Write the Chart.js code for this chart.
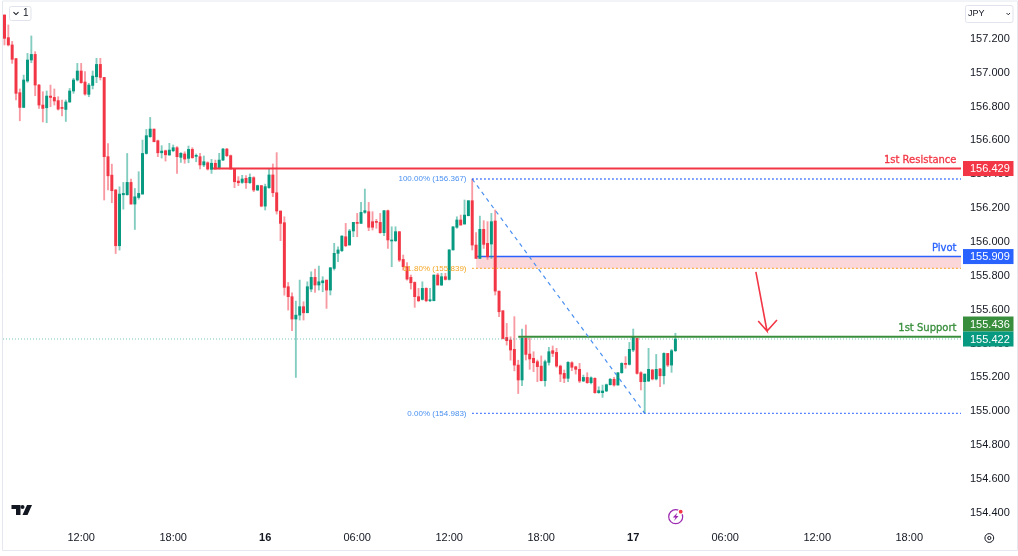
<!DOCTYPE html>
<html>
<head>
<meta charset="utf-8">
<title>USDJPY 15m</title>
<script src="https://cdn.jsdelivr.net/npm/chart.js@4/dist/chart.umd.min.js"></script>
<style>
  html, body { margin: 0; padding: 0; background: #fff; }
  canvas { display: block; }
</style>
</head>
<body>
<canvas id="chart" width="1018" height="556"></canvas>
<script>
// 15 minute candles. First bar is 07:00, index 20 is 12:00
const opens = [
  157.336,157.202,157.159,157.078,156.877,156.790,156.946,157.070,157.103,156.922,
  156.804,156.788,156.857,156.849,156.830,156.786,156.778,156.822,156.887,156.952,
  157.005,156.940,156.867,156.920,156.971,157.044,156.967,156.499,156.390,156.302,
  155.973,156.274,156.274,156.347,156.219,156.258,156.278,156.518,156.617,156.662,
  156.593,156.522,156.534,156.509,156.534,156.552,156.495,156.515,156.489,156.542,
  156.501,156.499,156.450,156.463,156.424,156.460,156.430,156.479,156.544,156.505,
  156.426,156.355,156.347,156.371,156.345,156.375,156.302,156.328,156.207,156.316,
  156.391,156.286,156.178,156.109,155.731,155.672,155.540,155.563,155.613,155.577,
  155.717,155.786,155.741,155.754,155.770,155.711,155.839,155.928,155.944,156.026,
  155.977,156.060,156.111,156.105,156.170,156.174,156.115,156.115,156.111,156.050,
  156.180,156.001,156.003,156.056,155.892,155.849,155.786,155.756,155.672,155.656,
  155.721,155.648,155.648,155.800,155.741,155.790,155.774,155.948,156.082,156.125,
  156.101,156.150,156.239,155.977,155.898,156.070,155.987,155.983,156.119,155.705,
  155.589,155.431,155.416,155.361,155.268,155.180,155.426,155.333,155.308,155.288,
  155.262,155.176,155.284,155.353,155.343,155.262,155.219,155.190,155.282,155.258,
  155.243,155.174,155.195,155.164,155.190,155.105,155.105,155.115,155.152,155.184,
  155.150,155.223,155.278,155.272,155.357,155.426,155.223,155.170,155.174,155.239,
  155.186,155.245,155.205,155.337,155.268,155.353
];
const highs = [
  157.336,157.277,157.180,157.080,156.899,156.981,157.109,157.212,157.119,156.926,
  156.883,156.887,156.922,156.899,156.853,156.834,156.834,156.902,156.962,157.050,
  157.050,157.001,156.932,157.005,157.080,157.080,156.967,156.577,156.455,156.306,
  156.321,156.347,156.518,156.367,156.311,156.410,156.597,156.660,156.731,156.662,
  156.597,156.564,156.538,156.578,156.568,156.558,156.523,156.528,156.562,156.552,
  156.515,156.519,156.503,156.469,156.483,156.479,156.519,156.548,156.548,156.509,
  156.426,156.381,156.389,156.387,156.397,156.381,156.331,156.329,156.337,156.426,
  156.456,156.523,156.178,156.144,155.756,155.695,155.646,155.770,155.642,155.760,
  155.819,155.835,155.853,155.790,155.770,155.843,155.987,155.967,156.032,156.105,
  156.070,156.111,156.164,156.229,156.308,156.229,156.174,156.129,156.164,156.180,
  156.184,156.085,156.085,156.056,155.918,155.873,155.800,155.760,155.721,155.760,
  155.725,155.721,155.800,155.810,155.810,155.810,155.951,156.085,156.144,156.154,
  156.243,156.239,156.367,156.050,156.148,156.121,156.115,156.164,156.184,155.705,
  155.589,155.514,155.435,155.554,155.297,155.481,155.505,155.426,155.347,155.298,
  155.322,155.298,155.373,155.381,155.367,155.268,155.239,155.288,155.288,155.262,
  155.278,155.209,155.223,155.199,155.193,155.140,155.150,155.156,155.190,155.196,
  155.223,155.282,155.318,155.402,155.481,155.426,155.229,155.215,155.367,155.243,
  155.331,155.249,155.341,155.337,155.361,155.456
];
const lows = [
  157.159,157.153,157.050,156.834,156.711,156.788,156.938,157.054,156.859,156.784,
  156.704,156.700,156.794,156.804,156.774,156.739,156.707,156.820,156.873,156.946,
  156.932,156.863,156.853,156.899,156.936,156.952,156.243,156.302,156.227,155.927,
  155.947,156.189,156.272,156.219,156.069,156.248,156.278,156.514,156.613,156.587,
  156.499,156.491,156.473,156.507,156.528,156.400,156.465,156.460,156.463,156.489,
  156.469,156.426,156.440,156.420,156.400,156.426,156.426,156.475,156.499,156.426,
  156.316,156.328,156.341,156.312,156.341,156.292,156.298,156.203,156.184,156.312,
  156.263,156.160,156.003,155.681,155.593,155.471,155.195,155.534,155.534,155.577,
  155.701,155.697,155.711,155.701,155.603,155.682,155.829,155.879,155.938,155.967,
  155.977,156.026,156.026,156.105,156.164,156.062,156.066,156.076,156.046,156.032,
  155.957,155.849,155.997,155.879,155.829,155.770,155.717,155.609,155.642,155.652,
  155.642,155.642,155.648,155.741,155.737,155.770,155.770,155.948,156.076,156.095,
  156.101,156.150,155.948,155.898,155.898,155.957,155.892,155.898,155.682,155.554,
  155.422,155.386,155.297,155.234,155.100,155.146,155.298,155.243,155.229,155.170,
  155.174,155.144,155.268,155.318,155.255,155.170,155.164,155.170,155.235,155.215,
  155.164,155.170,155.160,155.156,155.101,155.101,155.077,155.111,155.150,155.144,
  155.150,155.219,155.249,155.268,155.347,155.215,155.121,154.983,155.170,155.180,
  155.180,155.140,155.156,155.259,155.225,155.347
];
const closes = [
  157.198,157.159,157.074,156.873,156.790,156.952,157.070,157.103,156.922,156.804,
  156.784,156.857,156.849,156.828,156.780,156.784,156.822,156.887,156.952,157.005,
  156.936,156.869,156.922,156.975,157.044,156.967,156.499,156.386,156.298,155.973,
  156.278,156.282,156.347,156.219,156.262,156.282,156.518,156.623,156.662,156.587,
  156.522,156.532,156.510,156.538,156.552,156.499,156.519,156.485,156.542,156.493,
  156.505,156.450,156.469,156.426,156.460,156.426,156.479,156.544,156.505,156.426,
  156.351,156.345,156.367,156.345,156.377,156.302,156.328,156.207,156.322,156.391,
  156.286,156.178,156.105,155.727,155.672,155.540,155.563,155.613,155.577,155.731,
  155.786,155.741,155.760,155.766,155.711,155.843,155.928,155.948,156.030,155.973,
  156.060,156.111,156.105,156.170,156.180,156.082,156.082,156.111,156.050,156.180,
  156.007,156.003,156.056,155.888,155.849,155.776,155.754,155.672,155.648,155.721,
  155.648,155.652,155.800,155.741,155.790,155.774,155.948,156.085,156.125,156.095,
  156.154,156.239,155.977,155.898,156.070,155.981,155.908,156.115,155.705,155.583,
  155.425,155.412,155.357,155.268,155.180,155.426,155.331,155.304,155.282,155.259,
  155.176,155.288,155.347,155.337,155.262,155.215,155.190,155.284,155.255,155.243,
  155.174,155.195,155.164,155.193,155.105,155.117,155.115,155.152,155.184,155.150,
  155.223,155.278,155.272,155.361,155.432,155.219,155.170,155.215,155.243,155.186,
  155.243,155.205,155.337,155.268,155.353,155.422
];

const xTickIndex = [20, 44, 68, 92, 116, 140, 164, 188, 212, 236];
const xTickLabels = ['12:00', '18:00', '16', '06:00', '12:00', '18:00', '17', '06:00', '12:00', '18:00'];
const yTicks = [154.4, 154.6, 154.8, 155, 155.2, 155.4, 155.6, 155.8, 156, 156.2, 156.4, 156.6, 156.8, 157, 157.2];

// levels
const resistance = 156.429, pivot = 155.909, support = 155.436, lastPrice = 155.422;
const fibHigh = 156.367, fibMid = 155.839, fibLow = 154.983;
const diagX = [122, 167];
const diagY = [156.367, 154.983];
const arrowX = [196, 198.9, 196.6, 198.9, 201.5];
const arrowY = [155.818, 155.469, 155.528, 155.469, 155.534];

const RED = '#F23645', GREEN = '#089981', BLUE = '#2962FF', DKGREEN = '#388E3C';
const FIB_BLUE = '#4A90F0', ORANGE = '#F5A623', INK = '#131722';
const FONT = '"Liberation Sans", sans-serif';
const X_MIN = -0.391, X_MAX = 249.5;

const isUp = closes.map((c, i) => c >= opens[i]);
const wickColors = isUp.map(u => u ? 'rgba(8,153,129,0.5)' : 'rgba(242,54,69,0.5)');
const bodyColors = isUp.map(u => u ? GREEN : RED);

function hline(y, from, color, width, dash, extra) {
  return Object.assign({
    type: 'line',
    data: [{ x: from, y: y }, { x: X_MAX, y: y }],
    borderColor: color,
    borderWidth: width,
    borderDash: dash || [],
    pointRadius: 0,
    fill: false,
    order: 1
  }, extra || {});
}

// everything that is not a plain axis: labels, price tags, little icons
const overlay = {
  id: 'overlay',
  afterDraw(chart) {
    const c = chart.ctx, yS = chart.scales.y;
    c.save();

    // pane borders
    c.strokeStyle = '#E6E8F0';
    c.lineWidth = 1;
    c.beginPath();
    c.moveTo(2.5, 1); c.lineTo(2.5, 550.5); c.lineTo(1017.5, 550.5); c.lineTo(1017.5, 1); c.closePath();
    c.stroke();

    // price tags on the axis
    function tag(text, cy, color) {
      c.fillStyle = color;
      c.fillRect(963, cy - 7.5, 50.5, 15);
      c.fillStyle = '#fff';
      c.font = '11px ' + FONT;
      c.textAlign = 'left';
      c.textBaseline = 'middle';
      c.fillText(text, 970, cy + 0.5);
    }
    const lastY = yS.getPixelForValue(lastPrice);
    tag(resistance.toFixed(3), yS.getPixelForValue(resistance), RED);
    tag(pivot.toFixed(3), yS.getPixelForValue(pivot), BLUE);
    tag(support.toFixed(3), lastY - 15, DKGREEN);
    tag(lastPrice.toFixed(3), lastY, GREEN);

    // level names, thin stroke makes them a bit heavier like the original
    function levelName(text, y, color) {
      c.fillStyle = color;
      c.strokeStyle = color;
      c.lineWidth = 0.3;
      c.fillText(text, 956.5, y);
      c.strokeText(text, 956.5, y);
    }
    c.textAlign = 'right';
    c.textBaseline = 'middle';
    c.font = '10px "DejaVu Sans", sans-serif';
    levelName('1st Resistance', yS.getPixelForValue(resistance) - 8.5, RED);
    levelName('Pivot', yS.getPixelForValue(pivot) - 8, BLUE);
    levelName('1st Support', yS.getPixelForValue(support) - 8.5, DKGREEN);

    // fib labels
    c.font = '8px ' + FONT;
    c.fillStyle = FIB_BLUE;
    c.fillText('100.00% (' + fibHigh.toFixed(3) + ')', 466.5, yS.getPixelForValue(fibHigh));
    c.fillText('0.00% (' + fibLow.toFixed(3) + ')', 466.5, yS.getPixelForValue(fibLow));
    c.fillStyle = ORANGE;
    c.fillText('61.80% (' + fibMid.toFixed(3) + ')', 466.5, yS.getPixelForValue(fibMid));

    // interval button
    c.strokeStyle = '#E0E3EB';
    c.lineWidth = 1;
    c.beginPath();
    c.roundRect(9.5, 6.5, 21.5, 14, 2);
    c.stroke();
    c.strokeStyle = INK;
    c.lineWidth = 1.1;
    c.beginPath();
    c.moveTo(13.5, 12.2); c.lineTo(16, 14.6); c.lineTo(18.5, 12.2);
    c.stroke();
    c.fillStyle = INK;
    c.font = '10px ' + FONT;
    c.textAlign = 'left';
    c.fillText('1', 23, 13.7);

    // currency box
    c.strokeStyle = '#E0E3EB';
    c.lineWidth = 1;
    c.beginPath();
    c.roundRect(965.5, 5.5, 47.5, 17, 2);
    c.stroke();
    c.fillStyle = INK;
    c.font = '9px ' + FONT;
    c.textAlign = 'left';
    c.fillText('JPY', 968, 14);
    c.strokeStyle = INK;
    c.lineWidth = 0.9;
    c.beginPath();
    c.moveTo(1006.5, 13); c.lineTo(1008.3, 14.8); c.lineTo(1010, 13);
    c.stroke();

    // logo
    c.fillStyle = INK;
    c.beginPath();
    c.moveTo(11.5, 505); c.lineTo(20.5, 505); c.lineTo(20.5, 515); c.lineTo(16, 515);
    c.lineTo(16, 509); c.lineTo(11.5, 509); c.closePath();
    c.fill();
    c.beginPath();
    c.arc(22.5, 507, 2, 0, Math.PI * 2);
    c.fill();
    c.beginPath();
    c.moveTo(27, 505); c.lineTo(32, 505); c.lineTo(27.5, 515); c.lineTo(22.5, 515); c.closePath();
    c.fill();

    // events icon
    c.strokeStyle = '#9C27B0';
    c.lineWidth = 1.2;
    c.beginPath();
    c.arc(675.7, 516.7, 7, 0, Math.PI * 2);
    c.stroke();
    c.fillStyle = '#9C27B0';
    c.beginPath();
    c.moveTo(677.5, 512.5); c.lineTo(672.8, 517.5); c.lineTo(675.5, 517.5);
    c.lineTo(674, 521); c.lineTo(678.6, 516); c.lineTo(676, 516); c.closePath();
    c.fill();
    c.fillStyle = '#fff';
    c.beginPath();
    c.arc(680.7, 511.7, 3, 0, Math.PI * 2);
    c.fill();
    c.fillStyle = RED;
    c.beginPath();
    c.arc(680.7, 511.7, 1.9, 0, Math.PI * 2);
    c.fill();

    // settings icon
    c.strokeStyle = INK;
    c.lineWidth = 1;
    c.beginPath();
    c.arc(989.3, 538, 4.4, 0, Math.PI * 2);
    c.stroke();
    c.beginPath();
    c.arc(989.3, 538, 1.6, 0, Math.PI * 2);
    c.stroke();

    c.restore();
  }
};

const config = {
  type: 'bar',
  data: {
    datasets: [
      hline(pivot, 123, BLUE, 1.5, [], {
        fill: { value: fibMid },
        backgroundColor: 'rgba(242,54,69,0.2)',
        order: 5
      }),
      {
        label: 'wicks',
        data: highs.map((h, i) => ({ x: i, y: [lows[i], h] })),
        backgroundColor: wickColors,
        barThickness: 1.2,
        grouped: false,
        order: 4
      },
      {
        label: 'bodies',
        data: closes.map((c, i) => ({ x: i, y: [opens[i], c] })),
        backgroundColor: bodyColors,
        barThickness: 2.3,
        minBarLength: 1,
        grouped: false,
        order: 3
      },
      hline(lastPrice, X_MIN, 'rgba(8,153,129,0.55)', 1, [1, 2]),
      hline(fibHigh, 122, BLUE, 1.4, [1.5, 2.5]),
      hline(fibLow, 122, BLUE, 1.4, [1.5, 2.5]),
      hline(fibMid, 122, ORANGE, 1.4, [1.5, 2.5]),
      {
        type: 'line',
        data: diagX.map((x, i) => ({ x: x, y: diagY[i] })),
        borderColor: FIB_BLUE,
        borderWidth: 1.2,
        borderDash: [4, 4],
        pointRadius: 0,
        fill: false,
        order: 1
      },
      hline(resistance, 54.4, RED, 1.8),
      hline(support, 134, DKGREEN, 2),
      {
        type: 'line',
        data: arrowX.map((x, i) => ({ x: x, y: arrowY[i] })),
        borderColor: RED,
        borderWidth: 1.6,
        pointRadius: 0,
        fill: false,
        order: 0
      }
    ]
  },
  options: {
    responsive: false,
    animation: false,
    events: [],
    layout: { padding: { left: 3, top: 2, right: 0, bottom: 0 } },
    plugins: { legend: { display: false }, tooltip: { enabled: false } },
    scales: {
      x: {
        type: 'linear',
        offset: false,
        min: X_MIN,
        max: X_MAX,
        grid: { display: false, drawTicks: false, offset: false },
        border: { display: false },
        afterBuildTicks(scale) { scale.ticks = xTickIndex.map(v => ({ value: v })); },
        afterFit(scale) {
          scale.height = 28;
          scale.paddingLeft = 0;
          scale.paddingRight = 0;
        },
        ticks: {
          autoSkip: false,
          maxRotation: 0,
          padding: 3,
          color: INK,
          font: ctx => ({ family: FONT, size: 11, weight: ctx.tick && !/:/.test(ctx.tick.label) ? 'bold' : 'normal' }),
          callback: (v, i) => xTickLabels[i]
        }
      },
      y: {
        position: 'right',
        min: 154.3057,
        max: 157.4126,
        grid: { display: false, drawTicks: false },
        border: { display: false },
        afterBuildTicks(scale) { scale.ticks = yTicks.map(v => ({ value: v })); },
        afterFit(scale) {
          scale.width = 57;
          scale.paddingTop = 0;
          scale.paddingBottom = 0;
        },
        ticks: {
          padding: 9,
          labelOffset: 0.8,
          color: INK,
          crossAlign: 'near',
          font: { family: FONT, size: 11 },
          callback: v => v.toFixed(3)
        }
      }
    }
  },
  plugins: [overlay]
};

const chart = new Chart(document.getElementById('chart'), config);
</script>
</body>
</html>
